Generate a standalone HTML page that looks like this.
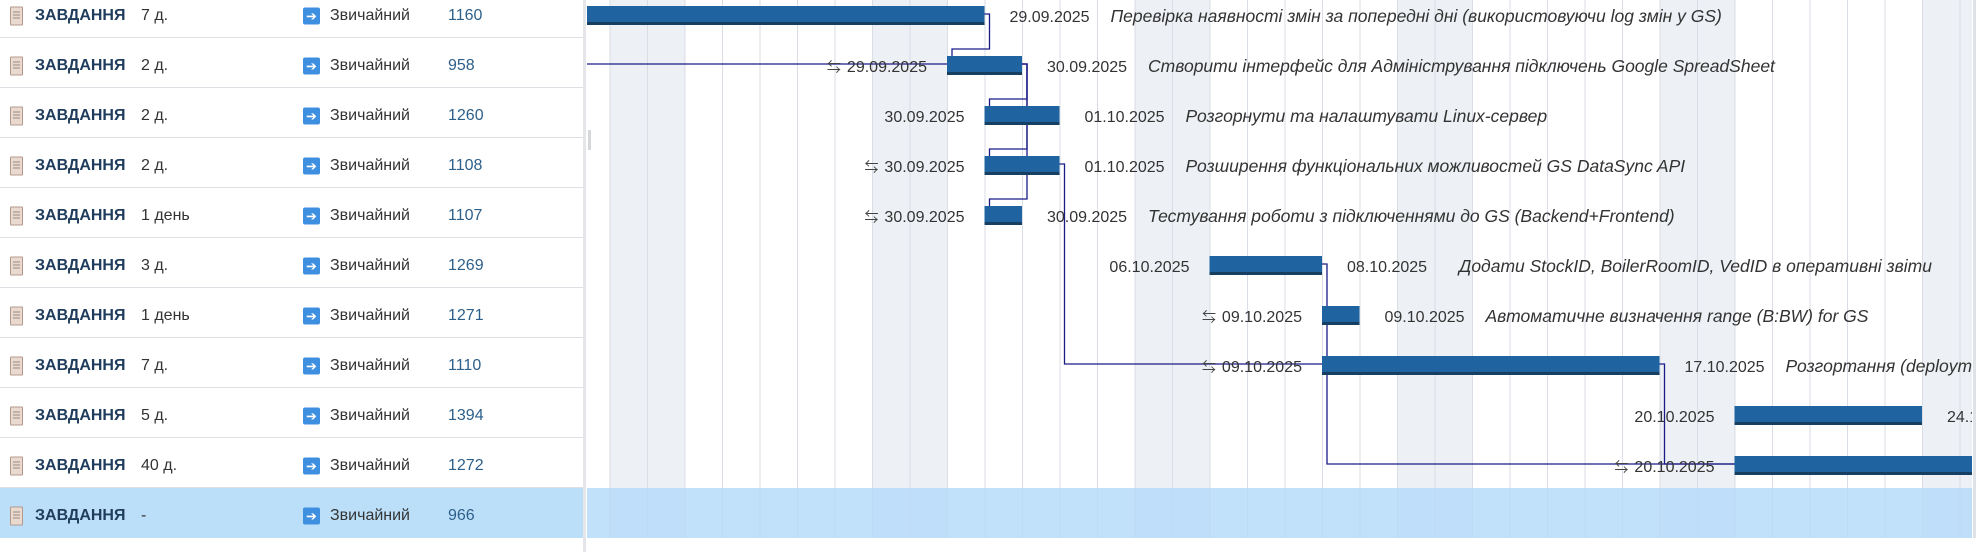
<!DOCTYPE html>
<html><head><meta charset="utf-8">
<style>
body{margin:0;width:1982px;height:552px;overflow:hidden;background:#fff;font-family:"Liberation Sans","Noto Sans CJK SC",sans-serif;}
#left{position:absolute;left:0;top:0;width:583px;height:552px;}
.row{position:absolute;left:0;width:583px;height:50px;border-bottom:1px solid #dcdfe3;box-sizing:border-box;font-size:16px;}
.row span{position:absolute;top:28px;transform:translateY(-50%);white-space:nowrap;}
.ico{left:10px;width:11px;height:17px;background:#e9d9cf;border:1px solid #b49a8c;border-radius:1px;}
.ico::after{content:"";position:absolute;left:2px;top:4px;width:7px;height:9px;background:repeating-linear-gradient(#9b8a80 0 1px,transparent 1px 3px);}
.type{left:35px;font-weight:bold;color:#1f3c5c;}
.dur{left:141px;color:#333;}
.arr{left:303px;width:17px;height:17px;background:#3f8fe0;border-radius:2px;color:#fff;font-size:13px;line-height:17px;text-align:center;}
.pri{left:330px;color:#333;}
.num{left:448px;color:#2c5f8a;}
#div{position:absolute;left:583px;top:0;width:3px;height:552px;background:#e4e6e9;}
#handle{position:absolute;left:588px;top:130px;width:3px;height:20px;background:#d6d9dc;}
#chart{position:absolute;left:0;top:0;}
</style></head><body>
<div id="left"></div>
<div id="div"></div>
<div id="handle"></div>
<svg id="chart" width="1982" height="552"></svg>
<script>
const taskDurations=["7 д.","2 д.","2 д.","2 д.","1 день","3 д.","1 день","7 д.","5 д.","40 д.","-"];
const taskIds=["1160","958","1260","1108","1107","1269","1271","1110","1394","1272","966"];
const startDates=["2025-09-19","2025-09-29","2025-09-30","2025-09-30","2025-09-30","2025-10-06","2025-10-09","2025-10-09","2025-10-20","2025-10-20",null];
const endDates=["2025-09-29","2025-09-30","2025-10-01","2025-10-01","2025-09-30","2025-10-08","2025-10-09","2025-10-17","2025-10-24","2025-12-12",null];
const startLabels=["19.09.2025","29.09.2025","30.09.2025","30.09.2025","30.09.2025","06.10.2025","09.10.2025","09.10.2025","20.10.2025","20.10.2025",null];
const endLabels=["29.09.2025","30.09.2025","01.10.2025","01.10.2025","30.09.2025","08.10.2025","09.10.2025","17.10.2025","24.10.2025","12.12.2025",null];
const hasIcon=[false,true,false,true,true,false,true,true,false,true,false];
const taskNames=["Перевірка наявності змін за попередні дні (використовуючи log змін у GS)","Створити інтерфейс для Адміністрування підключень Google SpreadSheet","Розгорнути та налаштувати Linux-сервер","Розширення функціональних можливостей GS DataSync API","Тестування роботи з підключеннями до GS (Backend+Frontend)","Додати StockID, BoilerRoomID, VedID в оперативні звіти","Автоматичне визначення range (B:BW) for GS","Розгортання (deployment) на сервер","","",""];
const linkFrom=[0,1,1,1,3,5,7];
const linkTo=[1,2,3,4,7,9,9];

const NS="http://www.w3.org/2000/svg";
const ROWH=50, X0=585, X1=1972, SELROW=10;
const base=Date.UTC(2025,8,29);
function dayIdx(s){const p=s.split("-");return Math.round((Date.UTC(+p[0],+p[1]-1,+p[2])-base)/864e5);}
function xDay(d){return 947+37.5*d;}
function rowTop(i){return i*ROWH-12;}
function rowMid(i){return rowTop(i)+27;}

const left=document.getElementById('left');
for(let i=0;i<taskIds.length;i++){
  const r=document.createElement('div');r.className='row';
  
  
  r.style.top=(rowTop(i))+'px';
  if(i===SELROW){r.style.background='#bcdff9';r.style.borderBottom='none';}
  r.innerHTML='<span class="ico"></span>'+
   '<span class="type">ЗАВДАННЯ</span>'+
   '<span class="dur">'+taskDurations[i]+'</span>'+
   '<span class="arr">➔</span>'+
   '<span class="pri">Звичайний</span>'+
   '<span class="num">'+taskIds[i]+'</span>';
  left.appendChild(r);
}

const svg=document.getElementById('chart');
function el(t,a,p){const e=document.createElementNS(NS,t);for(const k in a)e.setAttribute(k,a[k]);(p||svg).appendChild(e);return e;}
const defs=el('defs',{});
const cp=el('clipPath',{id:'clip'},defs);
el('rect',{x:X0+2,y:0,width:X1-X0-2,height:552},cp);
const g=el('g',{'clip-path':'url(#clip)'});


const H=rowTop(SELROW)+ROWH;
for(let d=-12;d<=30;d++){
  const dt=new Date(base+d*864e5).getUTCDay();
  if(dt===0||dt===6){const w=el('rect',{x:xDay(d),y:0,width:37.5,height:H,fill:'#edf0f4'},g);
    
    }
}
for(let d=-12;d<=30;d++){
  const l=el('line',{x1:xDay(d)+0.5,x2:xDay(d)+0.5,y1:0,y2:H,stroke:'#d9dee6','stroke-width':1},g);
  
  
}
const sel=el('rect',{x:X0,y:rowTop(SELROW),width:X1-X0,height:ROWH,fill:'#b6dbf9','fill-opacity':0.85},g);



function barX(i){return xDay(dayIdx(startDates[i]));}
function barE(i){return xDay(dayIdx(endDates[i])+1);}
const LC='#1b1b86';
el('path',{d:`M${X0} ${rowMid(1)-1} H${barX(1)}`,stroke:LC,fill:'none','stroke-width':1.3},g);
for(let k=0;k<linkFrom.length;k++){
  const a=linkFrom[k],b=linkTo[k];
  const ex=barE(a)+5, sy=rowMid(a)-1, sx=barX(b), ty=rowMid(b)-1;
  let d;
  if(sx>ex){d=`M${barE(a)} ${sy} H${ex} V${ty} H${sx}`;}
  else{const top=rowTop(b)+18;const my=top-7;d=`M${barE(a)} ${sy} H${ex} V${my} H${sx+5} V${top}`;}
  const p=el('path',{d:d,stroke:LC,fill:'none','stroke-width':1.3},g);
  
  
}
for(let i=0;i<startDates.length;i++){
  if(!startDates[i])continue;
  const x=barX(i),e=barE(i),t=rowTop(i)+18;
  const b=el('rect',{x:x,y:t,width:e-x,height:19,fill:'#1f64a0'},g);
  
  
  el('rect',{x:x,y:t+16,width:e-x,height:3,fill:'#173f62'},g);
  const ty=rowMid(i)+7;
  const st=el('text',{x:x-20,y:ty,'text-anchor':'end','font-size':16,fill:'#333'},g);
  st.textContent=startLabels[i];
  
  
  if(hasIcon[i]){
    const ic=el('text',{x:x-106,y:ty,'text-anchor':'end','font-size':14,fill:'#444'},g);
    ic.textContent='⇆';
    
    
  }
  const en=el('text',{x:e+25,y:ty,'font-size':16,fill:'#333'},g);
  en.textContent=endLabels[i];
  
  
  if(taskNames[i]){
    const nm=el('text',{x:e+(i===5?137:126),y:ty,'font-size':17.5,'font-style':'italic',fill:'#333'},g);
    nm.textContent=taskNames[i];
    
    
  }
}
const sb=el('rect',{x:1973,y:0,width:3,height:H,fill:'#dfe2e6'});


</script>
</body></html>
